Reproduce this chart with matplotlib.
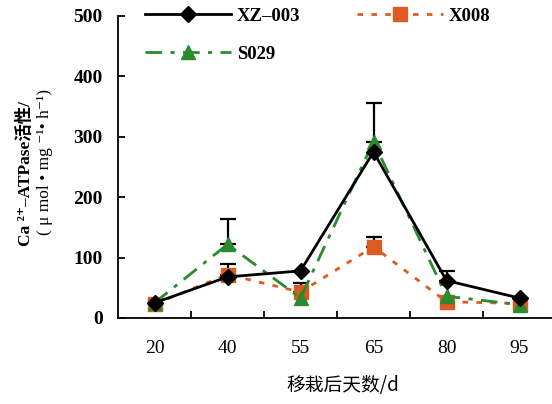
import matplotlib
matplotlib.use("Agg")
import matplotlib.pyplot as plt
from matplotlib.lines import Line2D

days = ["20", "40", "55", "65", "80", "95"]
xz003 = [25, 68, 78, 275, 62, 33]
x008 = [23, 72, 43, 118, 27, 24]
s029 = [25, 122, 33, 292, 36, 22]
xz003_err = [0, 0, 0, 0, 16, 0]
x008_err = [0, 17, 15, 16, 0, 0]
s029_err = [0, 42, 0, 64, 0, 0]
yticks = [0, 100, 200, 300, 400, 500]

black = "#000000"
orange = "#DD5A22"
green = "#2A8B2E"

serif = ["Liberation Serif", "DejaVu Serif", "Noto Sans CJK SC"]
plt.rcParams["font.family"] = serif

fig = plt.figure(figsize=(5.52, 4.04), dpi=100)
ax = fig.add_axes([118/552, 1-318/404, 438/552, 302/404])
x = list(range(len(days)))

# error bars (upward only, black)
for vals, errs in [(s029, s029_err), (x008, x008_err), (xz003, xz003_err)]:
    xs = [xi for xi, e in zip(x, errs) if e > 0]
    ys = [v for v, e in zip(vals, errs) if e > 0]
    es = [e for e in errs if e > 0]
    ax.errorbar(xs, ys, yerr=[[0]*len(es), es], fmt="none", ecolor=black,
                elinewidth=1.6, capsize=6, capthick=1.6, zorder=1)

green_ls = (0, (6, 3, 1.5, 3))
orange_ls = (0, (2, 3))
ax.plot(x, x008, color=orange, linestyle=orange_ls, linewidth=2,
        marker="s", markersize=10, markeredgecolor=orange, zorder=2)
ax.plot(x, s029, color=green, linestyle=green_ls, linewidth=2,
        marker="^", markersize=10, markeredgecolor=green, zorder=3)
ax.plot(x, xz003, color=black, linestyle="-", linewidth=2,
        marker="D", markersize=8, zorder=4)

ax.set_xlim(-0.5, 5.5)
ax.set_ylim(0, 500)
ax.set_yticks(yticks)
ax.set_yticklabels([str(t) for t in yticks], fontsize=14, fontweight="bold")
ax.set_xticks(x)
ax.set_xticklabels(days, fontsize=14)
ax.set_xticks([i + 0.5 for i in range(5)], minor=True)
ax.tick_params(axis="x", which="major", length=0, pad=16)
ax.tick_params(axis="x", which="minor", direction="in", length=5, width=1.3)
ax.tick_params(axis="y", direction="in", length=5, width=1.3, pad=11)
for s in ["top", "right"]:
    ax.spines[s].set_visible(False)
for s in ["left", "bottom"]:
    ax.spines[s].set_linewidth(1.3)

# y label (two lines)
fig.text(25/552, 1-174/404, "Ca \u00b2\u207a\u2013ATPase活性/", rotation=90, ha="center", va="center",
         fontsize=12.5, fontweight="bold", family=serif)
fig.text(45/552, 1-162/404, "( \u03bc mol \u2022 mg \u207b\u00b9\u2022 h\u207b\u00b9)", rotation=90,
         ha="center", va="center", fontsize=12.5, family=serif)

fig.text(343/552, 1-385/404, "移栽后天数/d", ha="center", va="center", fontsize=13.5,
         family=["Noto Sans CJK SC", "DejaVu Sans"])

# legend
h_xz = Line2D([], [], color=black, linestyle="-", linewidth=2, marker="D", markersize=8)
h_x8 = Line2D([], [], color=orange, linestyle=orange_ls, linewidth=2, marker="s",
              markersize=10, markeredgecolor=orange)
h_s2 = Line2D([], [], color=green, linestyle=green_ls, linewidth=2, marker="^",
              markersize=10, markeredgecolor=green)
leg = fig.legend([h_xz, h_s2, h_x8], ["XZ\u2013003", "S029", "X008"], ncol=2,
                 loc="upper left", bbox_to_anchor=(128/552, 1 + 9/404), frameon=False,
                 handlelength=4.6, handletextpad=0.3, columnspacing=3.0, labelspacing=1.1,
                 prop={"family": serif, "weight": "bold", "size": 13.5})

fig.savefig("out.png", dpi=100)
